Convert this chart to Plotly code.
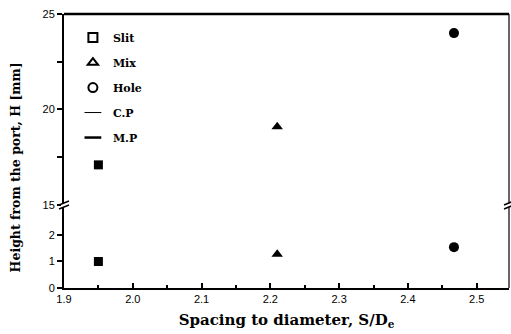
import plotly.graph_objects as go

# Data
series = ["Slit", "Mix", "Hole"]
spacing = [1.95, 2.21, 2.467]
height_cp = [17.1, 19.1, 24.0]     # upper panel
height_mp = [1.0, 1.27, 1.54]      # lower panel
symbols = ["square", "triangle-up", "circle"]
x_ticks = [1.9, 2.0, 2.1, 2.2, 2.3, 2.4, 2.5]
x_ticktext = ["1.9", "2.0", "2.1", "2.2", "2.3", "2.4", "2.5"]
y_low_ticks = [0, 1, 2]
y_up_ticks = [15, 17.5, 20, 22.5, 25]
y_up_ticktext = ["15", "", "20", "", "25"]
line_entries = ["C.P", "M.P"]
line_widths = [1, 2.5]

BRK = 0.303
SERIF = "DejaVu Serif, Times New Roman"
fig = go.Figure()

for i, s in enumerate(series):
    fig.add_trace(go.Scatter(x=[spacing[i]], y=[height_cp[i]], mode="markers", yaxis="y2",
                             marker=dict(symbol=symbols[i], size=10 if i else 9, color="black"),
                             showlegend=False))
    fig.add_trace(go.Scatter(x=[spacing[i]], y=[height_mp[i]], mode="markers", yaxis="y",
                             marker=dict(symbol=symbols[i], size=10 if i else 9, color="black"),
                             showlegend=False))

for i, s in enumerate(series):
    fig.add_trace(go.Scatter(x=[None], y=[None], mode="markers", name="<b>" + s + "</b>", legendgroup=s,
                             marker=dict(symbol=symbols[i] + "-open", size=9, color="black",
                                         line=dict(width=2, color="black"))))
for name, w in zip(line_entries, line_widths):
    fig.add_trace(go.Scatter(x=[None], y=[None], mode="markers", name="<b>" + name + "</b>", legendgroup=name,
                             marker=dict(symbol="line-ew", size=12, color="black",
                                         line=dict(width=w, color="black"))))

tickfont = dict(family="Liberation Sans, Arial", size=11, color="black")
fig.update_layout(
    width=511, height=334,
    margin=dict(l=64, r=2, t=14, b=46),
    paper_bgcolor="white", plot_bgcolor="white",
    showlegend=True,
    legend=dict(x=0.02, y=0.967, xanchor="left", yanchor="top", tracegroupgap=6,
                font=dict(family=SERIF, size=11, color="black"),
                bgcolor="rgba(0,0,0,0)", itemwidth=30),
    xaxis=dict(range=[1.9, 2.547], tickvals=x_ticks, ticktext=x_ticktext, anchor="y",
               ticks="inside", ticklen=5, tickwidth=1.5, tickcolor="black", automargin=False,
               minor=dict(ticks="inside", ticklen=3, tick0=1.95, dtick=0.1, tickcolor="black"),
               showline=True, linewidth=2, linecolor="black", showgrid=False, zeroline=False,
               tickfont=tickfont,
               title=dict(text="<b>Spacing to diameter, S/D<sub>e</sub></b>", standoff=10,
                          font=dict(family=SERIF, size=15, color="black"))),
    yaxis=dict(domain=[0, BRK], range=[0, 3.13], tickvals=y_low_ticks, anchor="x", automargin=False,
               ticks="outside", ticklen=5, tickwidth=1.5, tickcolor="black",
               showline=True, linewidth=2, linecolor="black", showgrid=False, zeroline=False,
               tickfont=tickfont),
    yaxis2=dict(domain=[BRK, 1], range=[15, 25], tickvals=y_up_ticks, ticktext=y_up_ticktext, anchor="x",
                ticks="outside", ticklen=5, tickwidth=1.5, tickcolor="black", automargin=False,
                showline=True, linewidth=2, linecolor="black", showgrid=False, zeroline=False,
                tickfont=tickfont),
    annotations=[dict(text="<b>Height from the port, H [mm]</b>", xref="paper", yref="paper",
                      x=-0.108, y=0.44, textangle=-90, showarrow=False, xanchor="center", yanchor="middle",
                      font=dict(family=SERIF, size=12.5, color="black"))],
)

shapes = [
    dict(type="line", xref="paper", yref="paper", x0=0, x1=1, y0=1, y1=1, line=dict(color="black", width=2.5)),
    dict(type="line", xref="paper", yref="paper", x0=1, x1=1, y0=0, y1=1, line=dict(color="black", width=1.2)),
]
for xa in [0, 1]:
    shapes.append(dict(type="rect", xref="paper", yref="paper", xsizemode="pixel", ysizemode="pixel",
                       xanchor=xa, yanchor=BRK, x0=-3, x1=3, y0=-2, y1=2,
                       fillcolor="white", line=dict(width=0)))
    for dy in [-2, 2]:
        shapes.append(dict(type="line", xref="paper", yref="paper", xsizemode="pixel", ysizemode="pixel",
                           xanchor=xa, yanchor=BRK, x0=-5, x1=5, y0=dy - 2, y1=dy + 2,
                           line=dict(color="black", width=1.5)))
fig.update_layout(shapes=shapes)

fig.write_html("out.html", config={"displayModeBar": False},
               post_script="document.body.style.margin='0';")
